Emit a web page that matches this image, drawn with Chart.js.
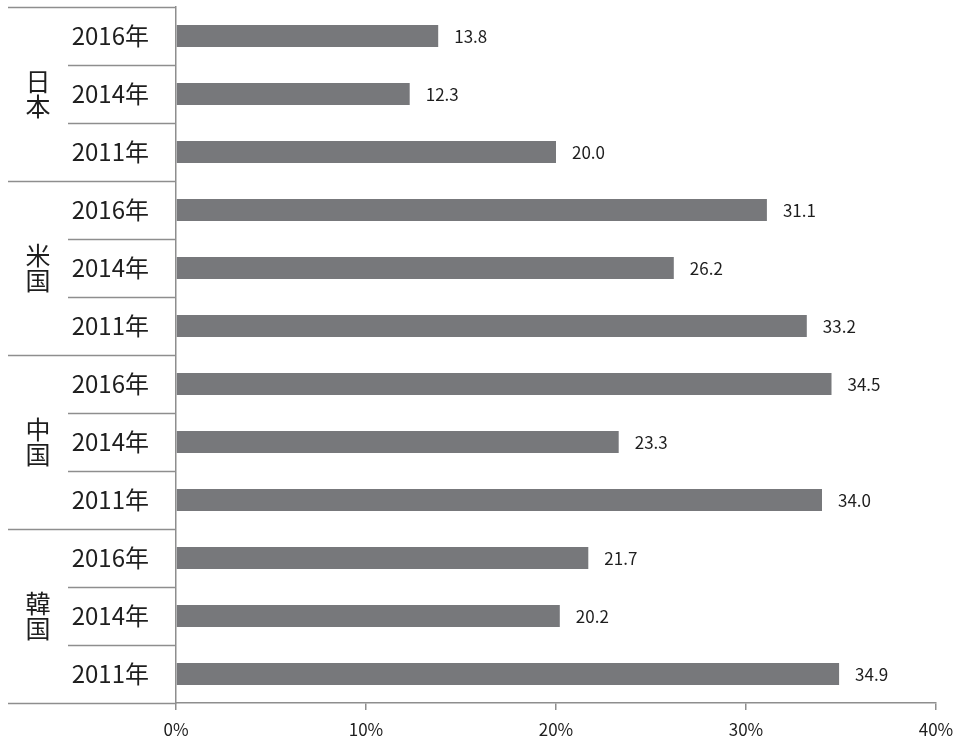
<!DOCTYPE html><html lang="ja">
<head>
  <meta charset="UTF-8" />
  <title>日米中韓 比較</title>
  <style>
    html, body { margin:0; padding:0; background:#fff; }
    #wrap { width:959px; height:744px; position:relative; }
  </style>
  <script src="https://cdn.jsdelivr.net/npm/chart.js"></script>
</head>
<body>
  <div id="wrap"><canvas id="chart"></canvas></div>
<script>
  // data, top to bottom
  const countries = ['日本', '米国', '中国', '韓国'];
  const years = ['2016年', '2014年', '2011年'];
  const japan = [13.8, 12.3, 20.0];
  const usa = [31.1, 26.2, 33.2];
  const china = [34.5, 23.3, 34.0];
  const korea = [21.7, 20.2, 34.9];
  const xTicks = [0, 10, 20, 30, 40];

  const labels = countries.flatMap(() => years);
  const values = [...japan, ...usa, ...china, ...korea];

  const FONT = "'Noto Sans CJK JP', 'Noto Sans', sans-serif";
  const LINE = '#8e8e8e';
  const TEXT = '#1e1e1e';

  // group separators + vertical country names in the label column
  const groupPlugin = {
    id: 'groups',
    afterDraw(chart) {
      const ctx = chart.ctx, ys = chart.scales.y, left = chart.chartArea.left;
      const n = labels.length, per = years.length;
      ctx.save();
      ctx.strokeStyle = LINE; ctx.lineWidth = 1.5;
      for (let i = 0; i <= n; i++) {
        const y = Math.round(ys.getPixelForValue(i - 0.5)) + 0.5;
        const x0 = (i % per === 0) ? 8 : 68;
        ctx.beginPath(); ctx.moveTo(x0, y); ctx.lineTo(left, y); ctx.stroke();
      }
      ctx.fillStyle = TEXT; ctx.font = '25px ' + FONT;
      ctx.textAlign = 'center'; ctx.textBaseline = 'middle';
      countries.forEach((c, g) => {
        const mid = ys.getPixelForValue(g * per + (per - 1) / 2);
        const chars = [...c], step = 25;
        chars.forEach((ch, k) => {
          ctx.fillText(ch, 38, mid + (k - (chars.length - 1) / 2) * step);
        });
      });
      ctx.restore();
    }
  };

  // value labels to the right of each bar
  const valuePlugin = {
    id: 'values',
    afterDatasetsDraw(chart) {
      const ctx = chart.ctx, meta = chart.getDatasetMeta(0);
      ctx.save();
      ctx.fillStyle = TEXT; ctx.font = '17px ' + FONT;
      ctx.textAlign = 'left'; ctx.textBaseline = 'middle';
      meta.data.forEach((bar, i) => ctx.fillText(values[i].toFixed(1), bar.x + 16, bar.y + 1));
      ctx.restore();
    }
  };

  new Chart(document.getElementById('chart'), {
    type: 'bar',
    data: { labels, datasets: [{ data: values, backgroundColor: '#77787b', categoryPercentage: 1, barPercentage: 0.38 }] },
    options: {
      indexAxis: 'y', responsive: true, maintainAspectRatio: false, animation: false,
      layout: { padding: { left: 8, right: 23, top: 7, bottom: 0 } },
      plugins: { legend: { display: false }, tooltip: { enabled: false } },
      scales: {
        x: {
          min: 0, max: 40,
          afterBuildTicks: s => { s.ticks = xTicks.map(v => ({ value: v })); },
          afterFit: s => { s.height = 41; s.paddingLeft = 0; s.paddingRight = 0; },
          ticks: { callback: v => v + '%', color: TEXT, font: { family: FONT, size: 17 }, padding: 9, maxRotation: 0 },
          grid: { drawOnChartArea: false, drawTicks: true, tickLength: 7, color: LINE, lineWidth: 1.5 },
          border: { color: LINE, width: 1.5 }
        },
        y: {
          afterFit: s => { s.width = 168; s.paddingTop = 0; s.paddingBottom = 0; },
          ticks: { autoSkip: false, color: TEXT, font: { family: FONT, size: 24 }, padding: 19 },
          grid: { display: false },
          border: { color: LINE, width: 1.5 }
        }
      }
    },
    plugins: [groupPlugin, valuePlugin]
  });
</script>
</body>
</html>
